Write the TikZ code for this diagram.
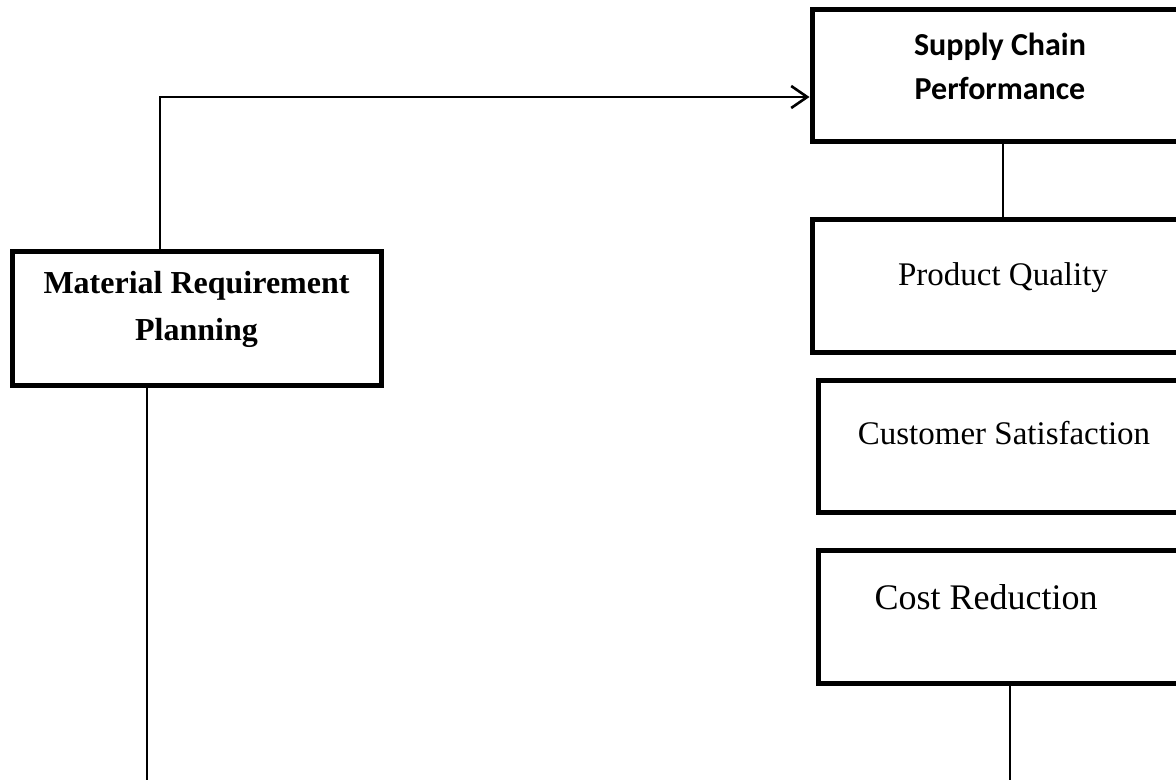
\documentclass[tikz,border=0pt]{standalone}
\usepackage{fontspec}
\setmainfont{Liberation Serif}
\newfontfamily\calibri{Carlito}
\usetikzlibrary{positioning,arrows.meta}

\tikzset{
  box/.style={draw, line width=2.5pt, inner sep=0pt, minimum height=66pt},
  lbl/.style={align=center, inner sep=0pt, font=\fontsize{16.5}{23.5}\selectfont},
  conn/.style={line width=1pt},
}

\begin{document}
\begin{tikzpicture}[x=0.5pt,y=-0.5pt]
  \useasboundingbox (0,0) rectangle (1176,780);
  % boxes
  \node[box, minimum width=184.5pt, minimum height=66.5pt] (mrp) at (196.5,318.5) {};
  \node[box, minimum width=188pt] (scp) at (1000,76) {};
  \node[box, minimum width=191pt] (pq) at (1003,286) {};
  \node[box, minimum width=186pt] (cs) at (1004,446) {};
  \node[box, minimum width=186pt, minimum height=66.5pt] (cr) at (1004,616.5) {};
  % texts
  \node[lbl, font=\bfseries\fontsize{16}{23.5}\selectfont, below=10.5pt of mrp.north] (mrptxt) {Material Requirement\\Planning};
  \node[lbl, font=\calibri\bfseries\fontsize{16}{22}\selectfont, below=12.5pt of scp.north] (scptxt) {Supply Chain\\Performance};
  \node[lbl, below=22.5pt of pq.north] (pqtxt) {Product Quality};
  \node[lbl, below=21.5pt of cs.north] (cstxt) {Customer Satisfaction};
  \node[lbl, font=\fontsize{18}{22}\selectfont, below=18.5pt of cr.north, xshift=-9pt] (crtxt) {Cost Reduction};
  % connectors
  \coordinate (bend) at (160,97);
  \coordinate (mrpend) at (147,780);
  \coordinate (crend) at (1010,780);
  \draw[conn, line width=1.3pt, -{Straight Barb[length=8pt,width=11pt]}] (mrp.north -| bend) |- (scp.west |- bend);
  \draw[conn] (scp.south -| pq.north) -- (pq.north);
  \draw[conn] (mrp.south -| mrpend) -- (mrpend);
  \draw[conn] (cr.south -| crend) -- (crend);
\end{tikzpicture}
\end{document}
